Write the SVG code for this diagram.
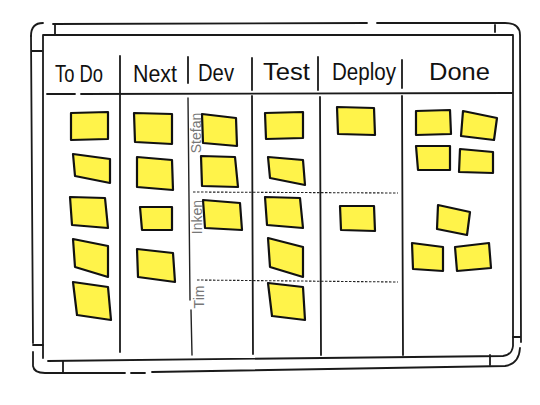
<svg xmlns="http://www.w3.org/2000/svg" width="540" height="405" viewBox="0 0 540 405">
<style>
.ln{fill:none;stroke:#1a1a1a;stroke-width:1.8;stroke-linecap:round;stroke-linejoin:round}
.thin{fill:none;stroke:#222;stroke-width:1.4;stroke-linecap:round}
.dash{fill:none;stroke:#222;stroke-width:1.1;stroke-dasharray:2.5 1.5}
.note polygon{fill:#fff34a;stroke:#111;stroke-width:2.2;stroke-linejoin:round}
.hdr{font-family:"Liberation Sans Narrow","Liberation Sans",Arial,sans-serif;font-size:23px;fill:#111}
.lane{font-family:"Liberation Sans",Arial,sans-serif;font-size:14px;fill:#777}
</style>
<rect width="540" height="405" fill="#fff"/>
<g id="board">
<path class="ln" d="M31,36 Q31,23 43,23 M53,24 L367,23 M377,23 L505,23 Q520,23 520,35 L521,342 M513,337 L520,337"/>
<path class="ln" d="M31,36 L33,343 M31,51 L42,51 M33,345 L43,345 M33,352 L33,366 Q34,373 45,373 L125,373 M131,373 L145,373 M152,372 L505,366 Q519,364 520,348"/>
<path class="ln" d="M55,24 L55,35 M495,25 L495,32 M63,361 L63,373 M490,355 L490,365"/>
<path class="ln" d="M43,35 L513,35 M43,35 L43,358 M513,35 L513,346 Q512,355 503,356 L48,361"/>
<path class="ln" d="M47,94 L75,94 M81,94 L512,93"/>
</g>
<g id="dividers">
<path class="ln" d="M120,56 L120,352"/>
<path class="ln" d="M188,57 L188,83"/>
<path class="thin" d="M188,98 L190,300 M191,310 L192,355"/>
<path class="ln" d="M252,58 L252,90 M252,96 L253,354"/>
<path class="ln" d="M318,57 L318,90 M320,97 L321,355"/>
<path class="ln" d="M402,60 L402,88 M402,96 L403,355"/>
<path class="dash" d="M193,192 L398,193"/>
<path class="dash" d="M197,280 L398,282"/>
</g>
<g id="headers">
<text class="hdr" x="55" y="82" textLength="48" lengthAdjust="spacingAndGlyphs">To Do</text>
<text class="hdr" x="133" y="82" textLength="44" lengthAdjust="spacingAndGlyphs">Next</text>
<text class="hdr" x="198" y="81" textLength="36" lengthAdjust="spacingAndGlyphs">Dev</text>
<text class="hdr" x="263" y="80" textLength="47" lengthAdjust="spacingAndGlyphs">Test</text>
<text class="hdr" x="332" y="80" textLength="64" lengthAdjust="spacingAndGlyphs">Deploy</text>
<text class="hdr" x="429" y="80" textLength="61" lengthAdjust="spacingAndGlyphs">Done</text>
</g>
<g id="lanes">
<text class="lane" transform="translate(201,133) rotate(-90)" text-anchor="middle">Stefan</text>
<text class="lane" transform="translate(202,217) rotate(-90)" text-anchor="middle">Inken</text>
<text class="lane" transform="translate(204,297) rotate(-90)" text-anchor="middle">Tim</text>
</g>
<g id="todo" class="note">
<polygon points="71,113 108,112 108,139 71,140"/>
<polygon points="73,154 110,159 110,183 75,176"/>
<polygon points="70,197 105,198 108,228 72,225"/>
<polygon points="73,239 108,246 108,277 75,267"/>
<polygon points="73,282 108,287 111,320 77,315"/>
</g>
<g id="next" class="note">
<polygon points="134,113 172,114 172,144 135,142"/>
<polygon points="137,157 172,160 173,190 137,187"/>
<polygon points="140,207 172,207 172,230 142,230"/>
<polygon points="137,249 173,253 175,282 138,277"/>
</g>
<g id="dev" class="note">
<polygon points="202,114 236,118 237,146 203,143"/>
<polygon points="201,156 235,157 238,187 202,186"/>
<polygon points="203,200 240,203 242,230 205,228"/>
</g>
<g id="test" class="note">
<polygon points="265,113 303,112 303,138 266,139"/>
<polygon points="268,157 303,160 305,185 270,178"/>
<polygon points="265,197 300,198 303,228 267,225"/>
<polygon points="268,238 303,247 303,277 270,267"/>
<polygon points="268,283 303,287 305,320 272,316"/>
</g>
<g id="deploy" class="note">
<polygon points="337,107 374,108 375,135 338,134"/>
<polygon points="340,206 374,206 375,231 341,230"/>
</g>
<g id="done" class="note">
<polygon points="416,111 450,110 451,134 416,135"/>
<polygon points="463,111 497,118 494,140 461,136"/>
<polygon points="416,146 450,146 450,170 418,170"/>
<polygon points="460,149 493,152 493,173 459,172"/>
<polygon points="438,205 470,212 467,235 437,229"/>
<polygon points="412,243 443,247 443,271 413,269"/>
<polygon points="455,247 489,243 491,268 457,271"/>
</g>
</svg>
